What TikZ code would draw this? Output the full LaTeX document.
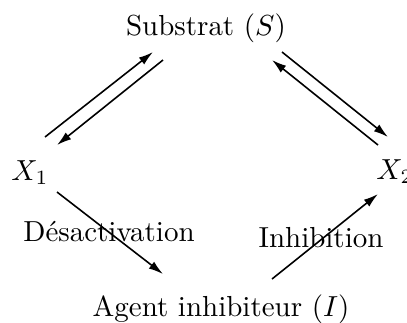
\documentclass[tikz,border=0pt]{standalone}
\usepackage{amsmath,amssymb}
\usetikzlibrary{arrows.meta,positioning}

\begin{document}
\begin{tikzpicture}[x=0.345pt, y=-0.345pt,
  arr/.style={-{Latex[length=5pt,width=3pt]}, line width=0.55pt},
  lbl/.style={anchor=base, inner sep=0pt}]
\useasboundingbox (0,0) rectangle (407,322);
\node[lbl] (S) at (206,35) {Substrat $(S)$}; \node[lbl] (X1) at (30,180) {$X_1$}; \node[lbl] (X2) at (395,179) {$X_2$}; \node[lbl] (I) at (221,316) {Agent inhibiteur $(I)$};
\node[lbl] (desact) at (109,241) {D\'esactivation}; \node[lbl] (inhib) at (321,247) {Inhibition};
% aller-retour entre le substrat et les deux formes
\draw[arr] ([shift={(15,-43)}]X1.base) -- ([shift={(-53,17)}]S.base);
\draw[arr] ([shift={(-43,25)}]S.base) -- ([shift={(27,-35)}]X1.base);
\draw[arr] ([shift={(76,17)}]S.base) -- ([shift={(-7,-42)}]X2.base);
\draw[arr] ([shift={(-17,-34)}]X2.base) -- ([shift={(66,25)}]S.base);
% passage par l'agent inhibiteur
\draw[arr] ([shift={(27,12)}]X1.base) -- ([shift={(-58,-42)}]I.base);
\draw[arr] ([shift={(51,-37)}]I.base) -- ([shift={(-17,15)}]X2.base);
\end{tikzpicture}
\end{document}
